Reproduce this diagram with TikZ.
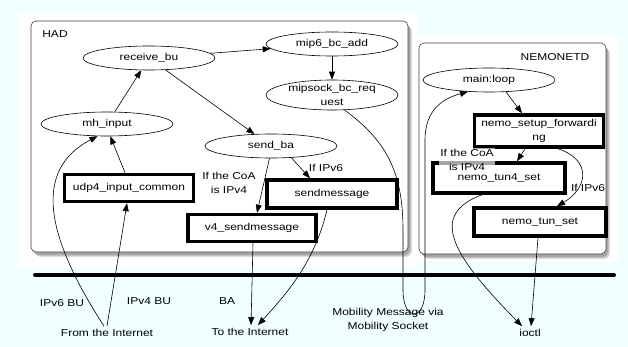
\documentclass[tikz,border=0pt]{standalone}
\usepackage{fontspec}
\setmainfont[FakeStretch=1.2]{Liberation Sans}
\usetikzlibrary{shapes.geometric,arrows.meta}
\definecolor{bgcyan}{HTML}{F0FFFF}
\begin{document}
\begin{tikzpicture}[x=1pt,y=-1pt,
  every node/.style={font=\fontsize{10}{14}\selectfont, inner sep=0pt},
  ell/.style={ellipse, draw, line width=0.6pt, fill=white, minimum width=132pt, minimum height=24pt},
  thickbox/.style={rectangle, draw, line width=3.5pt, fill=white, minimum width=#1, minimum height=27pt, align=center},
  thickbox/.default=129pt,
  arr/.style={-{Triangle[length=8pt,width=6pt]}, line width=0.6pt},
  cluster/.style={draw=black!75, line width=0.6pt, rounded corners=5pt, fill=white},
  shadowbox/.style={fill=black!#1, rounded corners=6pt},
  lbl/.style={align=center},
  endlbl/.style={align=center, inner sep=3pt}
]
% background and margins
\fill[bgcyan] (0,0) rectangle (628,347);
\fill[white] (18,13) rectangle (418,268);
\fill[white] (418,35) rectangle (618,262);
% cluster shadows
\foreach \o/\c in {5/12,4/22,3/35}{
  \fill[shadowbox=\c] (31+\o-1,21+\o) rectangle (408+\o-1,252+\o);
  \fill[shadowbox=\c] (419+\o-1,43+\o) rectangle (606+\o-1,254+\o);
}
% clusters
\draw[cluster] (31,21) rectangle (408,252);
\draw[cluster] (419,43) rectangle (606,254);
\node (had) at (55,34) {HAD};
\node (nemolbl) at (555,57) {NEMONETD};

% separator
\draw[line width=4pt, line cap=round] (35,275) -- (614,275);

% HAD nodes
\node[ell] (recv) at (149,58) {receive\_bu};
\node[ell] (mip6add) at (332,44) {mip6\_bc\_add};
\node[ell, minimum height=30pt, inner ysep=-3pt, align=center] (mipsock) at (332,95) {mipsock\_bc\_req\\uest};
\node[ell] (mhinput) at (107,124) {mh\_input};
\node[ell] (sendba) at (271,146) {send\_ba};
\node[thickbox] (udp4) at (129,188) {udp4\_input\_common};
\node[thickbox=128pt] (v4) at (252,228) {v4\_sendmessage};
\node[thickbox=130pt, minimum height=28pt] (sendmsg) at (332,194) {sendmessage};
\node[lbl] (coa1) at (229,183) {If the CoA\\is IPv4};
\node (ipv6a) at (326,168) {If IPv6};

% NEMONETD nodes
\node[ell] (mainloop) at (489,80) {main:loop};
\node[thickbox, minimum height=32pt] (nsf) at (539,131) {nemo\_setup\_forwardi\\ng};
\node[thickbox=132pt, minimum height=30pt] (tun4) at (499,178) {nemo\_tun4\_set};
\node[lbl, fill=white, fill opacity=0.65, text opacity=1, inner sep=1pt] (coa2) at (467,160) {If the CoA\\is IPv4};
\node[thickbox=132pt, minimum height=28pt] (tunset) at (540,222) {nemo\_tun\_set};
\node (ipv6b) at (588,188) {If IPv6};

% outside labels
\node (ipv6bu) at (62,303) {IPv6 BU};
\node (ipv4bu) at (149,301) {IPv4 BU};
\node[endlbl] (from) at (107,333) {From the Internet};
\node (ba) at (227,301) {BA};
\node[endlbl] (toint) at (250,332) {To the Internet};
\node[lbl] (mobmsg) at (388,320) {Mobility Message via\\Mobility Socket};
\node[endlbl] (ioctl) at (530,333) {ioctl};

% HAD edges
\draw[arr] (recv) -- (mip6add);
\draw[arr] (mip6add) -- (mipsock);
\draw[arr] (recv) -- (sendba);
\draw[arr] (mhinput) -- (recv);
\draw[arr] ([xshift=-4pt]udp4.north) -- (mhinput.-75);
\draw[arr] ([xshift=-3pt]from.north) .. controls (45,235) and (33,170) .. (mhinput.-128);
\draw[arr] (from.north) -- ([xshift=-2pt]udp4.south);
\draw[arr] (sendba.-97) -- ([xshift=5pt]v4.north);
\draw[arr] (sendba.-30) -- ([xshift=-22pt]sendmsg.north);
\draw[arr] ([xshift=1pt]v4.south) -- ([xshift=1pt]toint.north);
\draw[arr] ([xshift=-5pt]sendmsg.south) .. controls (315,260) and (290,290) .. ([xshift=8pt]toint.north);

% mobility socket loop
\draw[arr] (mipsock.-50) .. controls (385,140) and (403,170) .. (403,230)
  -- (403,290) .. controls (403,322) and (425,322) .. (425,290)
  -- (425,140) .. controls (425,108) and (445,98) .. (mainloop.-151);

% NEMONETD edges
\draw[arr] (mainloop.-35) -- ([xshift=-17pt]nsf.north);
\draw[arr] ([xshift=-14pt]nsf.south) -- ([xshift=18pt]tun4.north);
\draw[arr] ([xshift=19pt]nsf.south) .. controls (592,160) and (588,188) .. ([xshift=17pt]tunset.north);
\draw[arr] ([xshift=-17pt]tun4.south) .. controls (428,215) and (452,255) .. ([xshift=-8pt]ioctl.north);
\draw[arr] ([xshift=-2pt]tunset.south) -- ([xshift=1pt]ioctl.north);
\end{tikzpicture}
\end{document}
